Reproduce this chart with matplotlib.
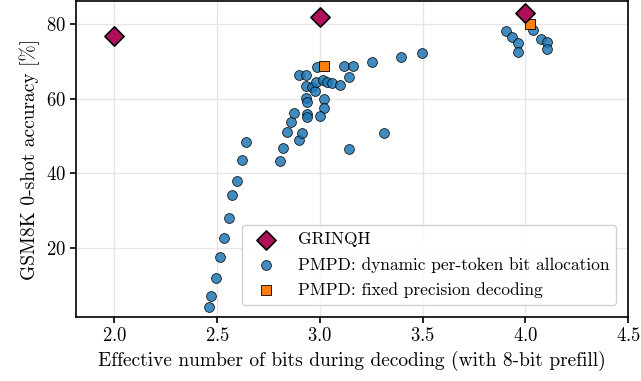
import matplotlib
matplotlib.use("Agg")
import matplotlib.pyplot as plt

plt.rcParams['font.family'] = 'serif'
plt.rcParams['font.serif'] = ['cmr10', 'DejaVu Serif']
plt.rcParams['mathtext.fontset'] = 'cm'
plt.rcParams['axes.formatter.use_mathtext'] = True

# GRINQH
grinqh_bits = [2.0, 3.0, 4.0]
grinqh_acc = [76.8, 81.9, 82.8]

# PMPD fixed precision decoding
fixed_bits = [3.02, 4.02]
fixed_acc = [68.7, 80.1]

# PMPD dynamic per-token bit allocation
dyn_bits = [2.460, 2.472, 2.493, 2.512, 2.533, 2.557, 2.572, 2.598, 2.619, 2.639,
            2.808, 2.820, 2.841, 2.862, 2.873, 2.897, 2.911,
            2.897, 2.935, 2.987, 2.935, 2.963, 2.975, 2.979,
            3.016, 3.035, 3.060, 3.100, 3.142, 3.116, 3.162, 3.256,
            2.935, 2.938, 3.019, 3.022, 2.938, 2.938, 3.003,
            3.142, 3.311, 3.397, 3.498,
            3.907, 3.937, 3.966, 3.963, 4.036, 4.075, 4.107, 4.104]
dyn_acc = [4.4, 7.2, 11.9, 17.7, 22.7, 28.1, 34.3, 38.0, 43.5, 48.5,
           43.3, 46.7, 51.0, 53.9, 56.3, 49.0, 50.7,
           66.3, 66.3, 68.4, 63.4, 63.0, 62.0, 64.5,
           65.0, 64.4, 64.2, 63.6, 65.9, 68.8, 68.8, 69.7,
           60.2, 59.0, 59.9, 57.5, 55.9, 55.0, 55.3,
           46.6, 50.8, 71.2, 72.3,
           78.1, 76.4, 75.0, 72.4, 78.4, 76.1, 75.2, 73.4]

fig, ax = plt.subplots(figsize=(6.41, 3.81), dpi=100)
fig.subplots_adjust(left=0.119, right=0.98, top=0.997, bottom=0.168)

ax.grid(True, color='#e6e6e6', linewidth=1.0, zorder=0)
ax.scatter(grinqh_bits, grinqh_acc, marker='D', s=95, color='#b0105a',
           edgecolor='black', linewidth=1.2, zorder=4, label='GRINQH')
ax.scatter(dyn_bits, dyn_acc, marker='o', s=50, color='#1f77b4', alpha=0.85,
           edgecolor='black', linewidth=0.6, zorder=3,
           label='PMPD: dynamic per-token bit allocation')
ax.scatter(fixed_bits, fixed_acc, marker='s', s=50, color='#ff7f0e',
           edgecolor='black', linewidth=0.6, zorder=3,
           label='PMPD: fixed precision decoding')

ax.set_xlim(1.815, 4.5)
ax.set_ylim(1.6, 86.1)
ax.set_xticks([2.0, 2.5, 3.0, 3.5, 4.0, 4.5])
ax.set_yticks([20, 40, 60, 80])
ax.set_xlabel('Effective number of bits during decoding (with 8-bit prefill)', fontsize=14)
ax.set_ylabel('GSM8K 0-shot accuracy [%]', fontsize=14)
ax.tick_params(labelsize=13.5, width=1.2, length=4)
for sp in ax.spines.values():
    sp.set_linewidth(1.2)

ax.legend(loc='lower right', fontsize=12.5, framealpha=0.9, edgecolor='#cccccc',
          labelspacing=0.55, borderaxespad=0.7)

plt.savefig('out.png', dpi=100)
